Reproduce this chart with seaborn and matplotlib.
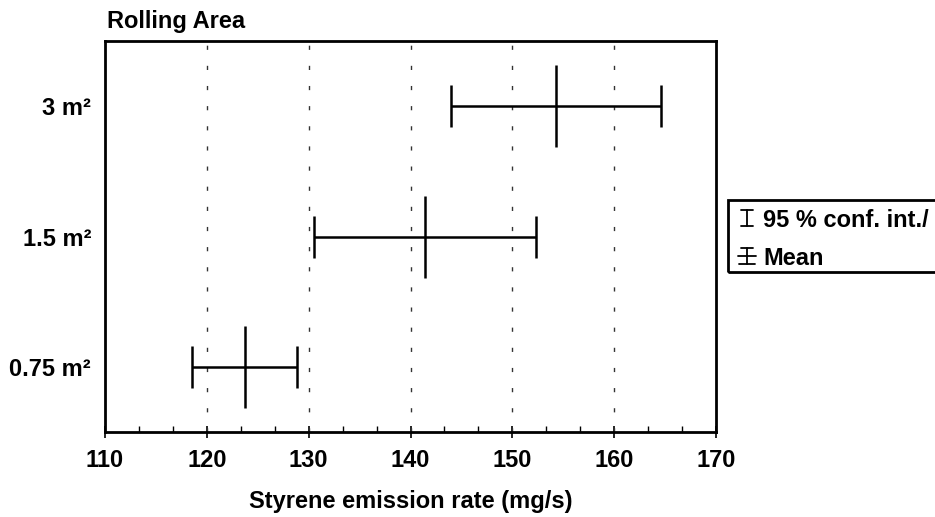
import numpy as np
import pandas as pd
import matplotlib
matplotlib.use('Agg')
import matplotlib.pyplot as plt
import seaborn as sns
from matplotlib.lines import Line2D
from matplotlib.patches import Rectangle
from matplotlib.ticker import MultipleLocator, AutoMinorLocator

# Daten
areas = ['0.75 m²', '1.5 m²', '3 m²']
means = [123.7, 141.4, 154.3]
ci_low = [118.5, 130.5, 144.0]
ci_high = [128.9, 152.3, 164.6]

df = pd.DataFrame({'area': areas, 'mean': means, 'low': ci_low, 'high': ci_high})

sns.set_theme(style='white')
plt.rcParams['font.family'] = ['Liberation Sans', 'DejaVu Sans']
plt.rcParams['font.weight'] = 'bold'
plt.rcParams['text.color'] = 'black'
plt.rcParams['axes.labelcolor'] = 'black'
plt.rcParams['xtick.color'] = 'black'
plt.rcParams['ytick.color'] = 'black'

W, H = 935, 517
fig = plt.figure(figsize=(W / 100, H / 100), dpi=100)
ax = fig.add_axes([105 / W, 1 - 432 / H, (716 - 105) / W, (432 - 41) / H])

# Konfidenzintervalle
ax.errorbar(df['mean'], df['area'],
            xerr=[df['mean'] - df['low'], df['high'] - df['mean']],
            fmt='none', ecolor='black', elinewidth=1.8, capsize=15, capthick=1.8, zorder=3)
# Mittelwerte als senkrechte Striche
sns.scatterplot(data=df, x='mean', y='area', marker='|', s=59 ** 2, color='black',
                linewidth=1.8, ax=ax, zorder=4, legend=False)

ax.set_xlim(110, 170)
ax.set_ylim(-0.5, 2.5)
ax.xaxis.set_major_locator(MultipleLocator(10))
ax.xaxis.set_minor_locator(AutoMinorLocator(3))
for x in range(120, 170, 10):
    ax.axvline(x, color='#333333', lw=1, dashes=(3, 11.5), zorder=1)

ax.tick_params(axis='x', which='major', direction='inout', length=8, width=1.2,
               labelsize=17, pad=8, color='black', labelcolor='black', bottom=True)
ax.tick_params(axis='x', which='minor', direction='in', length=4, width=1,
               color='black', bottom=True)
ax.tick_params(axis='y', left=False, length=0, labelsize=17, pad=10, labelcolor='black')
for lbl in ax.get_xticklabels() + ax.get_yticklabels():
    lbl.set_fontweight('bold')

for sp in ax.spines.values():
    sp.set_linewidth(2)
    sp.set_color('black')

ax.set_xlabel('Styrene emission rate (mg/s)', fontsize=17, fontweight='bold',
              labelpad=13, color='black')
ax.set_ylabel('')

fig.text(107 / W, 1 - 28 / H, 'Rolling Area', fontsize=17, fontweight='bold',
         va='baseline', color='black')

# Legende von Hand
def px(x, y):
    return x / W, 1 - y / H

tf = fig.transFigure
fig.patches.append(Rectangle(px(728, 272), (960 - 728) / W, 72 / H, transform=tf,
                             fill=False, lw=2, edgecolor='black'))

def seg(x0, y0, x1, y1):
    fig.lines.append(Line2D([x0 / W, x1 / W], [1 - y0 / H, 1 - y1 / H], transform=tf,
                            color='black', lw=1.3))

# Symbol 1: Konfidenzintervall
cx = 747
seg(cx, 210, cx, 226)
seg(cx - 6, 210, cx + 6, 210)
seg(cx - 6, 226, cx + 6, 226)
# Symbol 2: Intervall mit Mittelwert
seg(cx, 248, cx, 264)
seg(cx - 6, 248, cx + 6, 248)
seg(cx - 9, 256, cx + 9, 256)
seg(cx - 8, 264, cx + 8, 264)

fig.text(*px(763, 227), '95 % conf. int./', fontsize=17, fontweight='bold', va='baseline')
fig.text(*px(763, 265), 'Mean', fontsize=17, fontweight='bold', va='baseline')

fig.savefig('out.png', dpi=100)
